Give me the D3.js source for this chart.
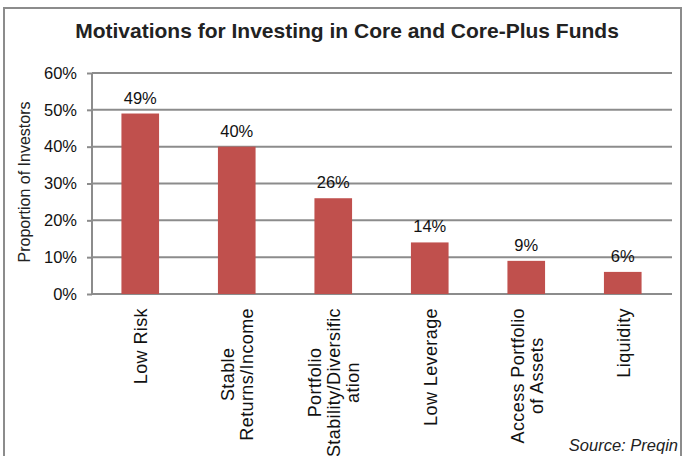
<!DOCTYPE html>
<html><head><meta charset="utf-8">
<script src="https://cdn.jsdelivr.net/npm/d3@7"></script>
<style>body{margin:0;background:#fff}svg{display:block;font-family:"Liberation Sans",Arial,sans-serif}</style>
</head><body>
<script>
const categories = ["Low Risk", "Stable\nReturns/Income", "Portfolio\nStability/Diversific\nation", "Low Leverage", "Access Portfolio\nof Assets", "Liquidity"];
const values = [49, 40, 26, 14, 9, 6];
const yTicks = [0, 10, 20, 30, 40, 50, 60];
const title = "Motivations for Investing in Core and Core-Plus Funds";
const yLabel = "Proportion of Investors";
const source = "Source: Preqin";

const W = 683, H = 456;
const svg = d3.select("body").append("svg").attr("width", W).attr("height", H);
svg.append("rect").attr("x", 4).attr("y", 8).attr("width", 677).attr("height", 460)
  .attr("fill", "#fff").attr("stroke", "#8c8c8c").attr("stroke-width", 2);

const x = d3.scaleBand().domain(categories).range([92, 671]).paddingInner(0.61).paddingOuter(0.305);
const y = d3.scaleLinear().domain([0, 60]).range([294, 73]);

svg.append("text").attr("x", 347).attr("y", 38).attr("text-anchor", "middle")
  .attr("font-size", 21).attr("font-weight", "bold").attr("fill", "#222").text(title);

// gridlines + y axis
const yAxis = d3.axisLeft(y).tickValues(yTicks).tickFormat(d => d + "%").tickSize(5).tickPadding(10);
const gy = svg.append("g").attr("transform", "translate(92,0)").call(yAxis);
gy.select(".domain").attr("stroke", "#8c8c8c").attr("stroke-width", 2).attr("d", "M0,73V294");
gy.selectAll(".tick line").attr("stroke", "#8c8c8c").attr("stroke-width", 2);
gy.selectAll(".tick text").attr("font-size", 16.5).attr("fill", "#111").attr("font-family", "Liberation Sans, Arial, sans-serif");
svg.append("g").selectAll("line").data(yTicks).join("line")
  .attr("x1", 92).attr("x2", 672).attr("y1", d => y(d)).attr("y2", d => y(d))
  .attr("stroke", "#8c8c8c").attr("stroke-width", 2);

svg.append("text").attr("transform", "translate(30,182) rotate(-90)").attr("text-anchor", "middle")
  .attr("font-size", 16).attr("fill", "#222").text(yLabel);

// bars
svg.append("g").selectAll("rect").data(values).join("rect")
  .attr("x", (d, i) => x(categories[i])).attr("width", x.bandwidth())
  .attr("y", d => y(d)).attr("height", d => y(0) - y(d)).attr("fill", "#C0504D");

svg.append("g").selectAll("text").data(values).join("text")
  .attr("x", (d, i) => x(categories[i]) + x.bandwidth() / 2).attr("y", d => y(d) - 10)
  .attr("text-anchor", "middle").attr("font-size", 16.5).attr("fill", "#111").text(d => d + "%");

// category labels rotated
const top0 = 308;
categories.forEach(c => {
  const lines = c.split("\n");
  const cx = x(c) + x.bandwidth() / 2;
  const g = svg.append("g");
  const n = lines.length;
  const lh = 19;
  const ts = lines.map(l => g.append("text").attr("font-size", 18).attr("letter-spacing", 0.4)
      .attr("fill", "#111").attr("text-anchor", "middle").text(l));
  const maxLen = d3.max(ts, t => t.node().getComputedTextLength());
  ts.forEach((t, j) => {
    const off = (j - (n - 1) / 2) * lh;
    const px = cx + off + 7;
    const py = top0 + maxLen / 2;
    t.attr("transform", `translate(${px},${py}) rotate(-90)`);
  });
});

svg.append("text").attr("x", 678).attr("y", 451).attr("text-anchor", "end")
  .attr("font-size", 16.5).attr("font-style", "italic").attr("fill", "#222").text(source);
</script>
</body></html>
